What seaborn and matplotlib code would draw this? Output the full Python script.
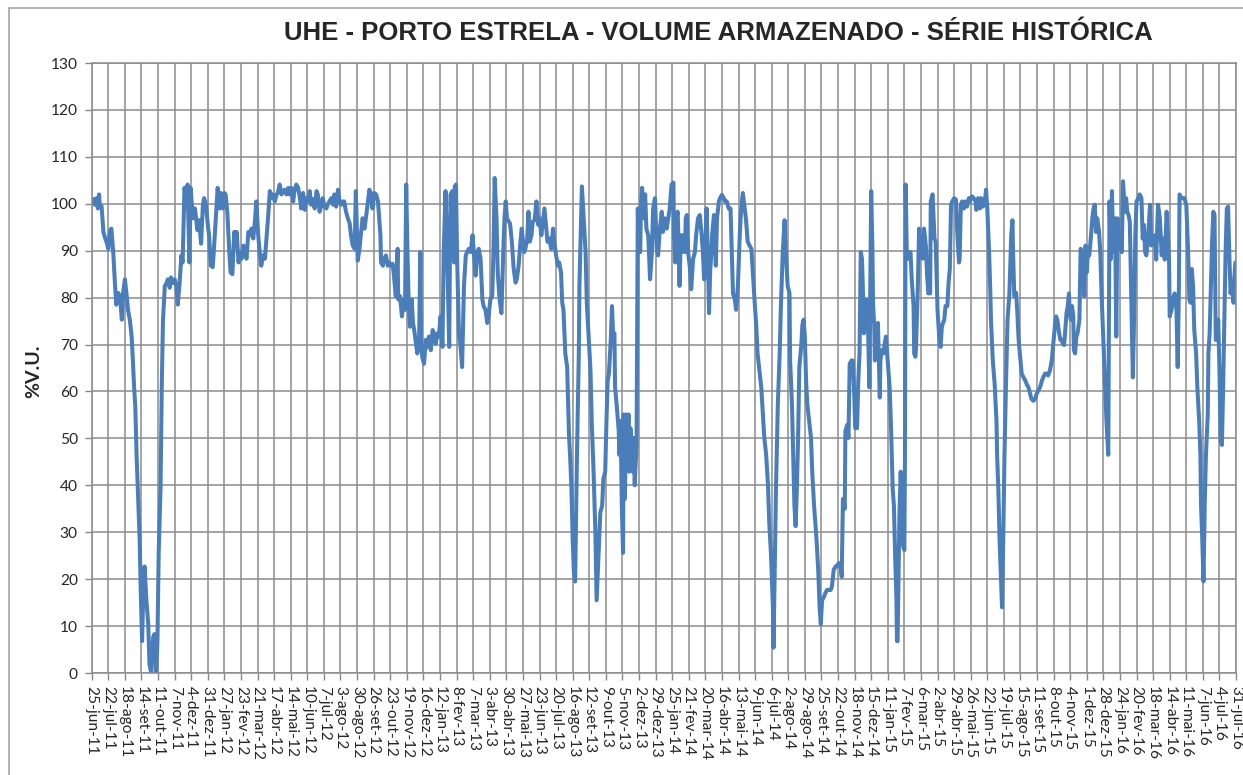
# UHE Porto Estrela - volume armazenado, serie historica

import pandas as pd
import seaborn as sns
import matplotlib.pyplot as plt
from matplotlib.patches import Rectangle

data_inicio = "2011-06-25"
meses = ["jan", "fev", "mar", "abr", "mai", "jun", "jul", "ago", "set", "out", "nov", "dez"]

# dias desde 25-jun-11
dias = [
    0, 3, 5, 8, 10, 12, 13, 16, 19, 22, 24, 27, 30, 32, 35, 38, 40, 43, 46, 49, 51, 54, 57, 59, 62, 65, 67, 69, 71, 73,
    75, 78, 80, 82, 84, 86, 89, 92, 94, 97, 100, 102, 105, 107, 109, 112, 114, 116, 119, 121, 124, 127, 129, 132, 135,
    138, 140, 143, 146, 148, 151, 154, 156, 159, 161, 163, 165, 168, 171, 172, 175, 178, 181, 183, 186, 189, 191, 194,
    197, 199, 202, 205, 208, 210, 213, 216, 218, 221, 224, 226, 229, 232,
    233, 236, 239, 241, 244, 247, 249, 252, 255, 258, 260, 263, 266, 268, 271, 274, 276, 279, 282, 285, 287, 290, 293,
    295, 298, 301, 303, 306, 309, 312, 314, 317, 320, 322, 325, 328, 330, 333, 336, 339, 341, 344, 347, 349, 352, 355,
    357, 360, 363, 366, 368, 371, 374, 376, 379, 382, 384, 387, 390, 393, 395, 398, 401, 403, 406, 409, 411, 414, 417,
    420, 422, 425, 428, 430, 433, 436, 438, 441, 444, 447, 449, 452, 455, 457, 460, 463, 466,
    470, 471, 474, 476, 479, 482, 484, 487, 490, 492, 495, 498, 499, 502, 505, 508, 510, 512, 514, 516, 518, 521, 523,
    525, 528, 530, 533, 535, 536, 538, 541, 544, 546, 549, 552, 555, 557, 560, 563, 565, 568, 571, 573, 576, 579, 582,
    584, 587, 590, 591, 593, 595, 598, 600, 603, 606, 609, 611, 614, 617, 620, 622, 625, 628, 630, 633, 636, 638, 641,
    644, 646, 649, 652, 654, 656, 659, 661, 664, 667, 670, 672, 674, 676, 679, 681, 684, 687, 690, 692, 695, 698, 700,
    704, 706, 709, 711, 713, 716, 718, 721, 724, 727, 729, 732, 734, 737, 740, 742, 745, 748, 751, 753, 756, 759, 761,
    764, 766, 768, 771, 774, 777, 779, 781, 783, 785, 787, 790, 793, 794, 796, 798, 801, 804, 806, 809, 812, 814, 817,
    820, 822, 825, 828, 831, 833, 836, 838, 840, 842, 845, 847, 849, 851, 852, 855, 858, 859, 861, 863, 865, 866, 868,
    870, 871, 874, 875, 877, 879, 881, 882, 884, 887, 889, 891, 893, 894, 896, 899, 901, 903, 906, 909, 912, 914, 917,
    920, 922, 925, 928, 930, 933, 936,
    941, 944, 947, 948, 950, 952, 954, 956, 957, 959, 961, 963, 966, 967, 969, 971, 974, 976, 979, 982, 984, 987, 990,
    993, 995, 997, 999, 1001, 1003, 1005, 1007, 1009, 1010, 1013, 1014, 1016, 1018, 1021, 1023, 1026, 1029, 1031, 1034,
    1037, 1040, 1042, 1044, 1047, 1049, 1052, 1055, 1057, 1060, 1063, 1065, 1068, 1071, 1074, 1076, 1079, 1082, 1084,
    1087, 1090, 1092, 1095, 1098, 1101, 1103, 1106, 1109, 1110, 1111, 1114, 1117, 1120, 1122, 1125, 1128, 1130, 1133,
    1136, 1137, 1140, 1142, 1144, 1146, 1148, 1150, 1152, 1155, 1157, 1159, 1161, 1163, 1165, 1168, 1171, 1173,
    1176, 1180, 1183, 1185, 1187, 1189, 1192, 1194, 1197, 1200, 1203, 1205, 1208, 1211, 1213, 1216, 1219, 1221, 1223,
    1226, 1227, 1230, 1232, 1234, 1237, 1239, 1241, 1243, 1246, 1248, 1250, 1252, 1254, 1256, 1257, 1259, 1261, 1263,
    1264, 1266, 1268, 1269, 1271, 1272, 1274, 1275, 1277, 1279, 1280, 1283, 1284, 1286, 1289, 1291, 1293, 1295, 1299,
    1301, 1304, 1306, 1308, 1310, 1311, 1312, 1314, 1315, 1317, 1319, 1321, 1323, 1324, 1325, 1327, 1329, 1331, 1333,
    1335, 1338, 1339, 1341, 1342, 1345, 1347, 1350, 1353, 1355, 1358, 1360, 1362, 1365, 1366, 1369, 1372, 1374, 1377,
    1380, 1382, 1384, 1386, 1388, 1390, 1393, 1395, 1397, 1399, 1401, 1404, 1407, 1409, 1412,
    1413, 1415, 1417, 1420, 1422, 1425, 1428, 1430, 1433, 1436, 1439, 1440, 1443, 1446, 1448, 1451, 1454, 1456, 1458,
    1461, 1463, 1464, 1467, 1470, 1473, 1474, 1476, 1478, 1481, 1482, 1484, 1486, 1489, 1491, 1494, 1497, 1499, 1500,
    1502, 1505, 1507, 1509, 1511, 1514, 1517, 1520, 1522, 1525, 1528, 1530, 1533, 1536, 1538, 1541, 1544, 1547, 1549,
    1552, 1555, 1557, 1560, 1563, 1565, 1568, 1570, 1572, 1575, 1577, 1579, 1581, 1583, 1585, 1587, 1589, 1591, 1592,
    1594, 1596, 1598, 1599, 1601, 1603, 1605, 1608, 1610, 1612, 1614, 1616, 1618, 1620, 1622, 1624, 1626, 1629, 1631,
    1633, 1635, 1637, 1640, 1642, 1644,
    1647, 1650, 1652, 1655, 1656, 1657, 1659, 1661, 1663, 1666, 1668, 1670, 1672, 1674, 1677, 1679, 1682, 1684, 1686,
    1688, 1690, 1692, 1695, 1697, 1699, 1701, 1704, 1706, 1709, 1711, 1713, 1715, 1717, 1720, 1723, 1725, 1728, 1731,
    1733, 1736, 1739, 1742, 1744, 1747, 1750, 1752, 1754, 1755, 1758, 1760, 1763, 1766, 1768, 1770, 1771, 1774, 1777,
    1779, 1782, 1785, 1787, 1789, 1791, 1793, 1795, 1798, 1800, 1803, 1805, 1806, 1808, 1810, 1812, 1814, 1817, 1818,
    1820, 1822, 1824, 1826, 1828, 1830, 1832, 1834, 1836, 1838, 1840, 1842, 1844, 1846, 1848, 1850, 1852, 1854, 1856,
    1859, 1860, 1862,
]

# %V.U.
volume = [
    100.1, 101, 99.8, 101.2, 99, 102, 99.8, 99.5, 94, 92.6, 91.9, 90.4, 94.4, 94.7, 89.7, 82.5, 78.5, 81, 80.3, 75.3,
    81, 83.9, 80.3, 77.4, 75.3, 71.7, 66.6, 60.9, 56.6, 46.5, 39.3, 28.5, 16.2, 6.8, 17.7, 22.7, 15.5, 10.4, 1.8, 0,
    7.6, 8.3, 0, 6.8, 25.6, 39.3, 60.9, 75.3, 82.5, 82.9, 83.9, 82.1, 84.3, 83.1, 83.9, 82.5, 78.5, 83, 89, 87.5, 103.4,
    101.2, 104.1, 87.5, 103.4, 99.8, 96.9, 99, 95.5, 94.4, 96.5, 91.5, 99.8, 101.2, 99.8, 95.5, 93.3, 86.8, 86.5, 90.4,
    96.9, 103.4, 99, 102.3, 99, 102.3, 102, 97.6, 89.7, 85.4, 85, 94,
    91.1, 94, 87.5, 89.7, 88.3, 91.1, 89.7, 88.3, 94, 93.3, 94.7, 92.6, 96.9, 100.5, 93.3, 89, 86.8, 89, 88.3, 93.3,
    96.9, 102.7, 101.2, 102, 100.5, 102, 102.3, 104.1, 102, 102.7, 103, 102, 103.4, 102, 103.4, 100.5, 102.7, 104.1,
    103.4, 101.2, 99, 102.3, 98.7, 101.2, 100.5, 102.7, 99.8, 101, 99, 102.7, 102, 98.3, 99.8, 101.2, 99.4, 99, 99.8,
    100.5, 101.2, 99.8, 102, 99.4, 103, 100.9, 99.8, 100.5, 100.5, 98.3, 96.9, 95.8, 93.3, 91.1, 90.4, 102.7, 87.9,
    90.4, 93.3, 96.9, 94.7, 97.6, 99.8, 103, 102, 99, 102.3, 102, 100.5,
    93.3, 87.5, 86.8, 88.3, 89, 86.8, 87.5, 86.8, 87.2, 84.7, 80.3, 90.4, 79.6, 80.3, 76, 79.6, 77.4, 104.1, 89.7, 78.9,
    73.8, 79.6, 74.6, 73.1, 70.2, 68.1, 71, 89.7, 71, 67.4, 65.9, 71, 69.5, 71.7, 68.8, 73.1, 72.4, 70.2, 72.4, 71.7,
    76, 69.5, 89.7, 102.7, 87.5, 69.5, 101.9, 102.7, 87.5, 103.7, 104.1, 87.5, 71.7, 70.2, 65.2, 82.5, 89, 89.7, 90.4,
    89.7, 93.3, 89.7, 84.7, 89.7, 90.4, 88.3, 79.6, 78.2, 77.4, 74.6, 76, 79.6, 80.3, 89.7, 105.5, 96.9, 85.4, 79.6,
    76.7, 89.7, 96.9, 100.5, 96.9, 96.2, 95.8, 91.9, 86.1, 83.2, 83.9, 86.8, 91.9, 94.7,
    89.7, 90.4, 92.6, 98.3, 91.9, 93.3, 96.2, 96.5, 100.5, 95.5, 96.9, 93.3, 95.5, 99, 94.7, 91.9, 92.6, 90.4, 94.7,
    91.9, 89, 86.8, 87.5, 85.4, 78.9, 77.4, 68.1, 65.2, 50.8, 45.7, 39.3, 28.5, 21.3, 19.5, 46.5, 68.1, 82.5, 93.3,
    103.7, 96.9, 89.7, 78.9, 71.7, 64.5, 53.7, 42.9, 29.9, 15.5, 24.9, 34.2, 35.7, 41.4, 42.9, 53.7, 62.3, 63.8, 70.9,
    78.2, 71.7, 72.4, 60.9, 56.6, 51.5, 46.5, 53.7, 35.7, 25.6, 55.1, 37.1, 55.1, 46.5, 55.1, 42.9, 52.2, 47.9, 42.9,
    50.1, 40, 48.6, 99, 90.4, 89.7, 99, 103.4, 96.9, 102, 94.7, 93.3, 83.9, 89.7, 99, 101.2, 90.4, 89, 94.7, 98.3, 94,
    96.9, 94.7,
    99, 104.1, 104.5, 93.3, 87.5, 96.9, 98.3, 87.5, 82.5, 93.3, 89.7, 93.3, 89.7, 96.9, 97.6, 89.7, 86.1, 81.8, 88.2,
    89.7, 93.3, 96.9, 97.6, 93.3, 89.7, 83.9, 91.1, 99, 89.7, 76.7, 86.1, 89.7, 93.3, 97.6, 94, 86.8, 96.9, 100.5,
    101.2, 101.9, 101.2, 100.5, 100.5, 99, 99, 89.7, 80.9, 79.6, 77.4, 82.5, 93.3, 98.3, 102.3, 99, 96.9, 91.9, 91.1,
    90.4, 86.1, 79.6, 73.8, 68.1, 64.5, 60.9, 56.6, 50.1, 46.5, 40, 32.1, 24.9, 14, 5.4, 14, 39.3, 57.3, 68.1, 78.2,
    89.7, 96.5, 89.7, 82.5, 80.9, 66.6, 57.3, 46.5, 35.7, 31.3, 39.3, 50.1, 65.2, 69.5, 74.2, 75.3, 71.7, 62.3, 57.3,
    53.7, 50.1, 42.9,
    35.7, 28.5, 21.3, 14, 10.4, 15.5, 16.2, 16.9, 17.7, 17.7, 17.7, 18.4, 22, 22.7, 22.7, 23.4, 23.4, 20.5, 37.1, 35,
    51.5, 52.9, 50.1, 65.9, 66.6, 66.6, 60.9, 52.2, 52.2, 62.3, 68.1, 89.7, 88.3, 79.6, 72.4, 74.6, 79.6, 78.9, 73.1,
    60.9, 89.7, 102.7, 90.4, 78.9, 73.8, 66.6, 74.2, 68.1, 74.6, 58.7, 66.6, 68.8, 68.1, 70.2, 71.7, 68.1, 60.9, 53.7,
    39.3, 35.7, 24.9, 16.2, 6.8, 6.8, 24.9, 34.2, 42.9, 35.7, 27, 26.2, 46.5, 104.1, 89.7, 88.3, 89.7, 89.7, 83.9,
    78.2, 68.1, 67.4, 69.5, 82.5, 94.7, 89.7, 88.3, 94.7, 91.1, 84.7, 80.9, 80.9, 100.5, 102, 92.6, 91.9, 77.4, 71,
    69.5, 73.8, 74.6, 75.3, 78.2, 78.2, 83.2, 86.1, 99.8, 100.5, 101.2, 100.9, 94, 87.5,
    88.2, 99.8, 100.5, 99, 100.5, 99.4, 101.2, 100.5, 101.6, 101.2, 100.5, 98.7, 101.2, 99, 101.2, 99.4, 100.5, 103,
    99, 89.7, 80.9, 75.3, 66.6, 61.6, 53.7, 46.5, 39.3, 28.5, 17.7, 14, 28.5, 46.5, 64.5, 75.3, 80.9, 93.3, 96.5,
    89.7, 80.3, 81, 76.7, 71, 68.1, 63.8, 63, 62.3, 61.6, 60.9, 59.4, 58.4, 58, 58.4, 59.4, 60.2, 60.9, 62.3, 63, 63.8,
    63.8, 63.4, 64.5, 66.6, 69.5, 73.8, 76, 75.3, 72.4, 71, 71, 70.2, 69.9, 73.1, 76.7, 78.2, 80.9, 77.4, 75.3, 78.2,
    76, 68.8, 68.1, 71.7, 72.4, 75.3, 90.4, 89.7, 86.1, 80.3, 91.1, 85.4, 90.4, 89, 91.9, 96.9, 99, 99.8, 94, 96.9, 94,
    89.7, 80.9,
    71, 60.9, 53.7, 46.5, 75.3, 100.5, 88.2, 102.7, 89.7, 96.9, 71.7, 96.9, 91.1, 94, 89.7, 104.8, 98.3, 101.2, 98.3,
    97.6, 96.2, 82.5, 63, 75.3, 93.3, 100.5, 101.2, 102, 101.2, 92.6, 95.5, 89.7, 89, 93.3, 99.8, 91.1, 92.6, 93.3,
    88.1, 99.8, 96.9, 89, 92.6, 88.1, 98.3, 93.3, 87.5, 76, 77.4, 79.6, 80.9, 77.4, 65.2, 82.5, 102, 101.2, 101.2,
    101.2, 99.8, 89.7, 79.6, 78.9, 86.1, 82.5, 73.1, 68.1, 60.9, 53.7, 46.5, 35.7, 28.5, 19.5, 35.7, 46.5, 55.1, 68.1,
    72.4, 82.5, 91.9, 98.3, 97.6, 71, 71, 75.3, 64.5, 49.4, 48.6, 60.9, 75.3, 89.7, 99, 99.4, 89.7, 80.9, 82.5, 78.9,
    83.9, 87.5,
]


def make_plot():
    sns.set_theme(style="whitegrid")
    plt.rcParams['font.family'] = ['Lato', 'DejaVu Sans']

    inicio = pd.Timestamp(data_inicio)
    df = pd.DataFrame({"data": inicio + pd.to_timedelta(dias, unit="D"), "volume": volume})

    fig = plt.figure(figsize=(12.43, 7.75), dpi=100)
    ax = fig.add_axes([0.0738, 0.1316, 0.9206, 0.7871])

    sns.lineplot(data=df, x="data", y="volume", ax=ax, color="#4A7EBB", linewidth=2.9)

    ticks = pd.date_range(inicio, periods=70, freq="27D")
    labels = [f"{d.day}-{meses[d.month - 1]}-{d.strftime('%y')}" for d in ticks]
    ax.set_xticks(ticks)
    ax.set_xticklabels(labels, rotation=-90, ha="center", va="top", fontsize=11.2)
    ax.set_xlim(ticks[0], ticks[-1])

    ax.set_ylim(0, 130)
    ax.set_yticks(range(0, 131, 10))
    ax.tick_params(axis="y", labelsize=11.2, length=5, width=1, color="#868686", pad=5, left=True)
    ax.tick_params(axis="x", length=5, width=1, color="#868686", pad=4, bottom=True)

    ax.grid(True, color="#8C8C8C", linewidth=1.1)
    for s in ax.spines.values():
        s.set_color("#8C8C8C")
        s.set_linewidth(1.1)

    ax.set_xlabel("")
    ax.set_ylabel("")
    fig.text(0.027, 0.521, "%V.U.", rotation=90, ha="center", va="center",
             fontsize=14, fontweight="bold")
    fig.text(0.578, 0.957, "UHE - PORTO ESTRELA - VOLUME ARMAZENADO - SÉRIE HISTÓRICA",
             ha="center", va="center", fontsize=18.5, fontweight="bold",
             family=['Liberation Sans', 'DejaVu Sans'])

    fig.patches.append(Rectangle((0.007, -0.05), 1.1, 1.04, transform=fig.transFigure,
                                 fill=False, edgecolor="#A6A6A6", linewidth=1.2))

    fig.savefig("out.png", dpi=100)


if __name__ == '__main__':
    make_plot()
